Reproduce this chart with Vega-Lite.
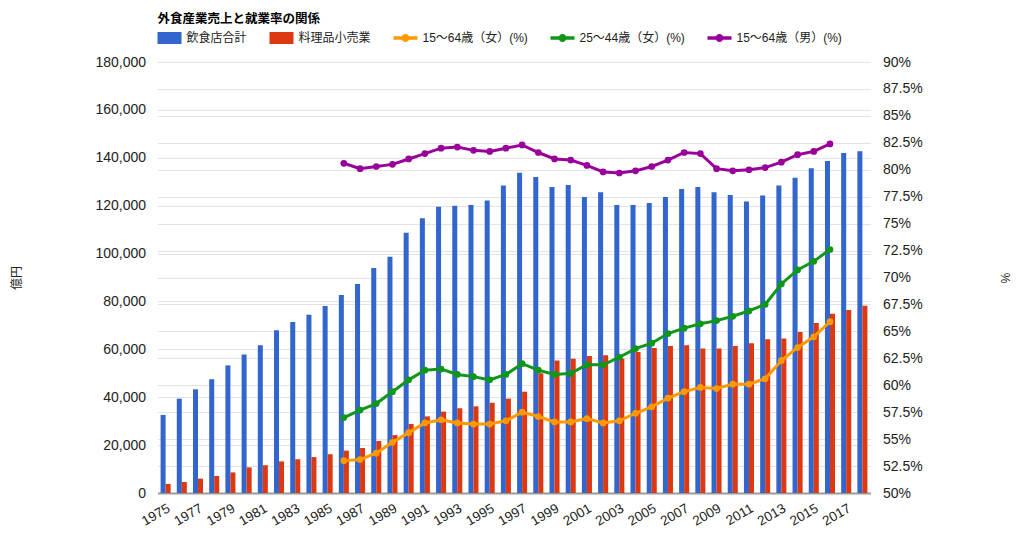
{
  "$schema": "https://vega.github.io/schema/vega-lite/v6.json",
  "width": 713,
  "height": 431,
  "autosize": {"type": "none"},
  "padding": {"left": 157.5, "top": 62, "right": 153.5, "bottom": 57},
  "background": "white",
  "title": {
    "text": "外食産業売上と就業率の関係",
    "anchor": "start",
    "frame": "group",
    "fontSize": 12.5,
    "fontWeight": "bold",
    "font": "Liberation Sans, Noto Sans CJK JP",
    "color": "#000000",
    "offset": 1
  },
  "config": {
    "view": {"stroke": null},
    "font": "Liberation Sans, Noto Sans CJK JP",
    "axis": {
      "labelFont": "Liberation Sans, Noto Sans CJK JP",
      "titleFont": "Liberation Sans, Noto Sans CJK JP",
      "labelColor": "#222222",
      "titleColor": "#222222",
      "labelFontSize": 14,
      "titleFontSize": 12,
      "titleFontWeight": "normal",
      "gridColor": "#e3e3e3",
      "gridWidth": 1,
      "ticks": false,
      "domain": false
    },
    "legend": {
      "symbolSize": 576,
      "symbolOpacity": 1,
      "labelFontSize": 12,
      "labelFont": "Liberation Sans, Noto Sans CJK JP",
      "labelColor": "#222222",
      "labelOffset": 5,
      "columnPadding": 22,
      "symbolStrokeWidth": 0
    }
  },
  "datasets": {
    "sales": [
      {"year": 1975, "r": 32600, "s": 3800},
      {"year": 1976, "r": 39400, "s": 4600},
      {"year": 1977, "r": 43300, "s": 6000},
      {"year": 1978, "r": 47500, "s": 7100},
      {"year": 1979, "r": 53300, "s": 8600},
      {"year": 1980, "r": 57800, "s": 10700},
      {"year": 1981, "r": 61700, "s": 11600},
      {"year": 1982, "r": 68000, "s": 13200},
      {"year": 1983, "r": 71400, "s": 14100},
      {"year": 1984, "r": 74400, "s": 15000},
      {"year": 1985, "r": 78100, "s": 16200},
      {"year": 1986, "r": 82700, "s": 17700},
      {"year": 1987, "r": 87300, "s": 18800},
      {"year": 1988, "r": 94000, "s": 21700},
      {"year": 1989, "r": 98700, "s": 24200},
      {"year": 1990, "r": 108700, "s": 28800},
      {"year": 1991, "r": 114700, "s": 32000},
      {"year": 1992, "r": 119500, "s": 34000},
      {"year": 1993, "r": 120000, "s": 35400},
      {"year": 1994, "r": 120300, "s": 36200},
      {"year": 1995, "r": 122200, "s": 37700},
      {"year": 1996, "r": 128400, "s": 39400},
      {"year": 1997, "r": 133700, "s": 42300},
      {"year": 1998, "r": 132000, "s": 50000},
      {"year": 1999, "r": 127800, "s": 55300},
      {"year": 2000, "r": 128600, "s": 56100},
      {"year": 2001, "r": 123600, "s": 57200},
      {"year": 2002, "r": 125600, "s": 57500},
      {"year": 2003, "r": 120300, "s": 56200},
      {"year": 2004, "r": 120300, "s": 58900},
      {"year": 2005, "r": 121100, "s": 60600},
      {"year": 2006, "r": 123600, "s": 61400},
      {"year": 2007, "r": 127000, "s": 61700},
      {"year": 2008, "r": 127800, "s": 60300},
      {"year": 2009, "r": 125600, "s": 60300},
      {"year": 2010, "r": 124500, "s": 61400},
      {"year": 2011, "r": 121700, "s": 62500},
      {"year": 2012, "r": 124200, "s": 64200},
      {"year": 2013, "r": 128400, "s": 64500},
      {"year": 2014, "r": 131700, "s": 67200},
      {"year": 2015, "r": 135600, "s": 71000},
      {"year": 2016, "r": 138700, "s": 74900},
      {"year": 2017, "r": 142000, "s": 76400},
      {"year": 2018, "r": 142700, "s": 78200}
    ],
    "rates": [
      {"year": 1986, "a": 53.0, "b": 57.0, "c": 80.6},
      {"year": 1987, "a": 53.1, "b": 57.7, "c": 80.1},
      {"year": 1988, "a": 53.7, "b": 58.3, "c": 80.3},
      {"year": 1989, "a": 54.7, "b": 59.4, "c": 80.5},
      {"year": 1990, "a": 55.6, "b": 60.5, "c": 81.0},
      {"year": 1991, "a": 56.5, "b": 61.4, "c": 81.5},
      {"year": 1992, "a": 56.8, "b": 61.5, "c": 82.0},
      {"year": 1993, "a": 56.5, "b": 61.0, "c": 82.1},
      {"year": 1994, "a": 56.4, "b": 60.8, "c": 81.8},
      {"year": 1995, "a": 56.4, "b": 60.5, "c": 81.7},
      {"year": 1996, "a": 56.7, "b": 61.0, "c": 82.0},
      {"year": 1997, "a": 57.5, "b": 62.0, "c": 82.3},
      {"year": 1998, "a": 57.1, "b": 61.4, "c": 81.6},
      {"year": 1999, "a": 56.6, "b": 61.0, "c": 81.0},
      {"year": 2000, "a": 56.6, "b": 61.1, "c": 80.9},
      {"year": 2001, "a": 56.9, "b": 61.9, "c": 80.4},
      {"year": 2002, "a": 56.5, "b": 61.9, "c": 79.8},
      {"year": 2003, "a": 56.7, "b": 62.6, "c": 79.7},
      {"year": 2004, "a": 57.4, "b": 63.4, "c": 79.9},
      {"year": 2005, "a": 58.0, "b": 63.9, "c": 80.3},
      {"year": 2006, "a": 58.8, "b": 64.8, "c": 80.9},
      {"year": 2007, "a": 59.4, "b": 65.3, "c": 81.6},
      {"year": 2008, "a": 59.8, "b": 65.7, "c": 81.5},
      {"year": 2009, "a": 59.7, "b": 66.0, "c": 80.1},
      {"year": 2010, "a": 60.1, "b": 66.4, "c": 79.9},
      {"year": 2011, "a": 60.1, "b": 66.9, "c": 80.0},
      {"year": 2012, "a": 60.6, "b": 67.5, "c": 80.2},
      {"year": 2013, "a": 62.3, "b": 69.4, "c": 80.7},
      {"year": 2014, "a": 63.5, "b": 70.7, "c": 81.4},
      {"year": 2015, "a": 64.5, "b": 71.5, "c": 81.7},
      {"year": 2016, "a": 65.9, "b": 72.6, "c": 82.4}
    ]
  },
  "layer": [
    {
      "data": {"name": "sales"},
      "transform": [{"fold": ["r", "s"], "as": ["series", "value"]}],
      "encoding": {
        "x": {
          "field": "year",
          "type": "ordinal",
          "scale": {"paddingInner": 0.38, "paddingOuter": 0.19},
          "axis": {
            "title": null,
            "values": [1975, 1977, 1979, 1981, 1983, 1985, 1987, 1989, 1991, 1993, 1995, 1997, 1999, 2001, 2003, 2005, 2007, 2009, 2011, 2013, 2015, 2017],
            "labelAngle": -30,
            "labelFontSize": 13.5,
            "labelPadding": 8,
            "domain": true,
            "domainColor": "#9a9a9a",
            "domainWidth": 2,
            "grid": false
          }
        },
        "y": {
          "field": "value",
          "type": "quantitative",
          "scale": {"domain": [0, 180000], "nice": false},
          "axis": {
            "title": "億円",
            "titleX": -134,
            "titleY": 215.5,
            "values": [0, 20000, 40000, 60000, 80000, 100000, 120000, 140000, 160000, 180000],
            "format": ",d",
            "labelPadding": 12,
            "grid": true
          }
        },
        "color": {
          "field": "series",
          "type": "nominal",
          "scale": {"domain": ["r", "s", "a", "b", "c"], "range": ["#3366cc", "#dc3912", "#ff9900", "#109618", "#990099"]},
          "legend": {
            "orient": "none",
            "legendX": 0,
            "legendY": -36,
            "direction": "horizontal",
            "title": null,
            "symbolOpacity": 1,
            "labelExpr": "datum.label == 'r' ? '飲食店合計' : datum.label == 's' ? '料理品小売業' : datum.label == 'a' ? '15〜64歳（女）(%)' : datum.label == 'b' ? '25〜44歳（女）(%)' : '15〜64歳（男）(%)'"
          }
        }
      },
      "layer": [
        {
          "mark": {"type": "bar"},
          "encoding": {
            "xOffset": {"field": "series", "type": "nominal", "scale": {"paddingInner": 0, "paddingOuter": 0}}
          }
        },
        {
          "mark": {"type": "point", "filled": true, "size": 0, "opacity": 1},
          "encoding": {
            "shape": {
              "field": "series",
              "type": "nominal",
              "scale": {
                "domain": ["r", "s", "a", "b", "c"],
                "range": [
                  "M-1,-0.5H1V0.5H-1Z",
                  "M-1,-0.5H1V0.5H-1Z",
                  "M-1,-0.14H1V0.14H-1Z M0.33,0A0.33,0.33 0 1 1 -0.33,0A0.33,0.33 0 1 1 0.33,0Z",
                  "M-1,-0.14H1V0.14H-1Z M0.33,0A0.33,0.33 0 1 1 -0.33,0A0.33,0.33 0 1 1 0.33,0Z",
                  "M-1,-0.14H1V0.14H-1Z M0.33,0A0.33,0.33 0 1 1 -0.33,0A0.33,0.33 0 1 1 0.33,0Z"
                ]
              },
              "legend": {
                "orient": "none",
                "legendX": 0,
                "legendY": -36,
                "direction": "horizontal",
                "title": null,
                "symbolOpacity": 1,
                "labelExpr": "datum.label == 'r' ? '飲食店合計' : datum.label == 's' ? '料理品小売業' : datum.label == 'a' ? '15〜64歳（女）(%)' : datum.label == 'b' ? '25〜44歳（女）(%)' : '15〜64歳（男）(%)'"
              }
            }
          }
        }
      ]
    },
    {
      "data": {"name": "rates"},
      "transform": [{"fold": ["a", "b", "c"], "as": ["series", "pct"]}],
      "encoding": {
        "x": {"field": "year", "type": "ordinal"},
        "y": {
          "field": "pct",
          "type": "quantitative",
          "scale": {"domain": [50, 90], "nice": false, "zero": false},
          "axis": {
            "orient": "right",
            "title": "%",
            "titleX": 127,
            "titleY": 215.5,
            "values": [50, 52.5, 55, 57.5, 60, 62.5, 65, 67.5, 70, 72.5, 75, 77.5, 80, 82.5, 85, 87.5, 90],
            "labelExpr": "datum.value + '%'",
            "labelPadding": 12,
            "grid": true
          }
        },
        "color": {
          "field": "series",
          "type": "nominal",
          "scale": {"domain": ["r", "s", "a", "b", "c"], "range": ["#3366cc", "#dc3912", "#ff9900", "#109618", "#990099"]},
          "legend": null
        }
      },
      "layer": [
        {"mark": {"type": "line", "strokeWidth": 3}},
        {"mark": {"type": "point", "filled": true, "opacity": 1, "size": 45}}
      ]
    }
  ],
  "resolve": {"scale": {"y": "independent"}}
}
